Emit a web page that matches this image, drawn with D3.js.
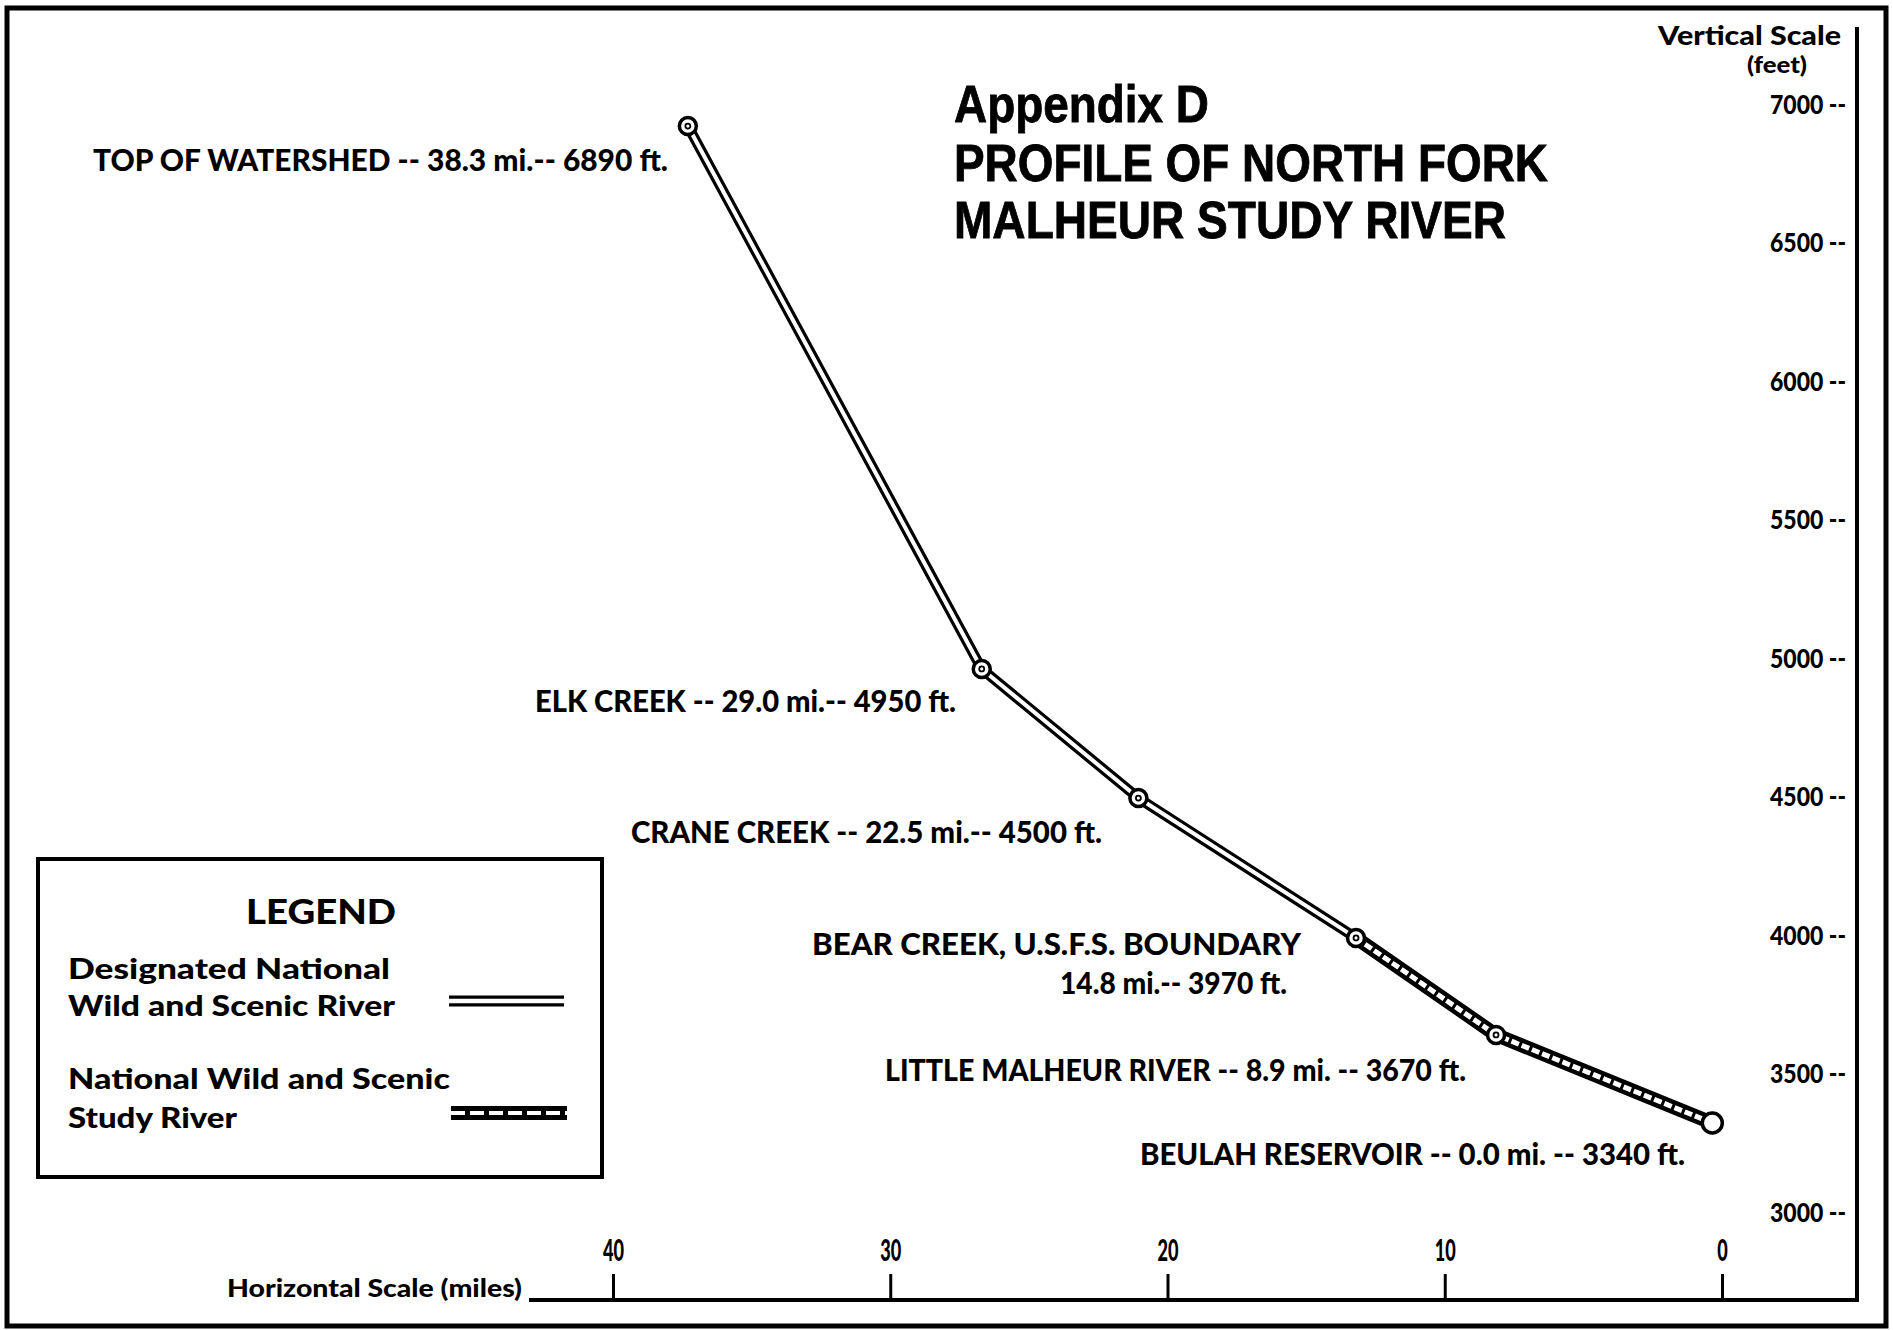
<!DOCTYPE html>
<html>
<head>
<meta charset="utf-8">
<script src="https://cdn.jsdelivr.net/npm/d3@7"></script>
<style>
  html, body { margin: 0; padding: 0; background: #fff; }
  svg { display: block; }
</style>
</head>
<body>
<svg id="chart" width="1893" height="1330"></svg>
<script>
// ---------------- data ----------------
const sites = ["TOP OF WATERSHED", "ELK CREEK", "CRANE CREEK", "BEAR CREEK, U.S.F.S. BOUNDARY", "LITTLE MALHEUR RIVER", "BEULAH RESERVOIR"];
// river mile and elevation as plotted on the drawing's scales
const plotMiles = [37.3, 26.7, 21.05, 13.2, 8.15, 0.35];
const plotFeet  = [6924, 4964, 4498, 3993, 3643, 3325];
// labels printed next to each point
const labelLines = [
  ["TOP OF WATERSHED  -- 38.3 mi.-- 6890 ft."],
  ["ELK CREEK -- 29.0 mi.-- 4950 ft."],
  ["CRANE CREEK -- 22.5 mi.-- 4500 ft."],
  ["BEAR CREEK, U.S.F.S. BOUNDARY", "14.8 mi.-- 3970 ft."],
  ["LITTLE MALHEUR RIVER -- 8.9 mi. -- 3670 ft."],
  ["BEULAH RESERVOIR -- 0.0 mi. -- 3340 ft."]
];
// segment classes: index ranges of points
const designatedIdx = [0, 1, 2, 3];
const studyIdx = [3, 4, 5];
const xTicks = [40, 30, 20, 10, 0];
const yTicks = [7000, 6500, 6000, 5500, 5000, 4500, 4000, 3500, 3000];
const titleLines = ["Appendix D", "PROFILE OF NORTH FORK", "MALHEUR STUDY RIVER"];
const legendTitle = "LEGEND";
const legendItems = [["Designated  National", "Wild and Scenic River"], ["National Wild and Scenic", "Study River"]];

// ---------------- layout ----------------
const svg = d3.select("#chart");
const LAB = "Lato, 'Open Sans', sans-serif";
const TIT = "'Liberation Sans', Arial, sans-serif";

const x = d3.scaleLinear().domain([0, 40]).range([1722, 613]);
const y = d3.scaleLinear().domain([3000, 7000]).range([1213, 105]);

// outer frame
svg.append("rect").attr("x", 7).attr("y", 8).attr("width", 1879).attr("height", 1318)
  .attr("fill", "none").attr("stroke", "#000").attr("stroke-width", 5);

// inner right line and bottom line
svg.append("line").attr("x1", 1857).attr("x2", 1857).attr("y1", 27).attr("y2", 1301)
  .attr("stroke", "#000").attr("stroke-width", 4);
svg.append("line").attr("x1", 529).attr("x2", 1859).attr("y1", 1300).attr("y2", 1300)
  .attr("stroke", "#000").attr("stroke-width", 4);

// x axis (ticks upward)
const gx = svg.append("g").attr("transform", "translate(0,1300)")
  .call(d3.axisTop(x).tickValues(xTicks).tickSize(26).tickPadding(13).tickFormat(d3.format("d")));
gx.select(".domain").remove();
gx.selectAll(".tick line").attr("stroke", "#000").attr("stroke-width", 3);
gx.selectAll(".tick text").attr("fill", "#000").style("font-family", LAB).style("font-weight", 900)
  .style("font-size", "30px")
  .attr("textLength", d => String(d).length * 10.5).attr("lengthAdjust", "spacingAndGlyphs");

svg.append("text").attr("x", 227).attr("y", 1297).text("Horizontal Scale (miles)")
  .style("font-family", LAB).style("font-weight", 900).style("font-size", "24px")
  .attr("textLength", 295).attr("lengthAdjust", "spacingAndGlyphs");

// y axis (labels "7000 --")
const gy = svg.append("g").attr("transform", "translate(1846,0)")
  .call(d3.axisLeft(y).tickValues(yTicks).tickSize(0).tickPadding(0).tickFormat(d => d + " --"));
gy.select(".domain").remove();
gy.selectAll(".tick text").attr("fill", "#000").style("font-family", LAB).style("font-weight", 900)
  .style("font-size", "26px")
  .attr("textLength", 76).attr("lengthAdjust", "spacingAndGlyphs");

svg.append("text").attr("x", 1658).attr("y", 45).text("Vertical Scale")
  .style("font-family", LAB).style("font-weight", 900).style("font-size", "26px")
  .attr("textLength", 183).attr("lengthAdjust", "spacingAndGlyphs");
svg.append("text").attr("x", 1747).attr("y", 73).text("(feet)")
  .style("font-family", LAB).style("font-weight", 900).style("font-size", "22px")
  .attr("textLength", 60).attr("lengthAdjust", "spacingAndGlyphs");

// title
const titleSpec = [{b: 122, len: 255}, {b: 181, len: 594}, {b: 238, len: 552}];
titleLines.forEach((t, i) => {
  svg.append("text").attr("x", 954).attr("y", titleSpec[i].b).text(t)
    .style("font-family", TIT).style("font-weight", 700).style("font-size", "52px")
    .attr("stroke", "#000").attr("stroke-width", 0.8)
    .attr("textLength", titleSpec[i].len).attr("lengthAdjust", "spacingAndGlyphs");
});

// ---------------- river profile ----------------
const pts = plotMiles.map((m, i) => [x(m), y(plotFeet[i])]);
const line = d3.line();
const desPts = designatedIdx.map(i => pts[i]);
const stuPts = studyIdx.map(i => pts[i]);

svg.append("path").attr("d", line(stuPts)).attr("fill", "none")
  .attr("stroke", "#000").attr("stroke-width", 14).attr("stroke-linejoin", "round");
svg.append("path").attr("d", line(stuPts)).attr("fill", "none")
  .attr("stroke", "#fff").attr("stroke-width", 5).attr("stroke-dasharray", "8,3");
svg.append("path").attr("d", line(desPts)).attr("fill", "none")
  .attr("stroke", "#000").attr("stroke-width", 10.5).attr("stroke-linejoin", "round");
svg.append("path").attr("d", line(desPts)).attr("fill", "none")
  .attr("stroke", "#fff").attr("stroke-width", 4).attr("stroke-linejoin", "round");

// markers
pts.forEach((p, i) => {
  const last = i === pts.length - 1;
  svg.append("circle").attr("cx", p[0]).attr("cy", p[1]).attr("r", last ? 10 : 8.5)
    .attr("fill", "#fff").attr("stroke", "#000").attr("stroke-width", 3.5);
  if (!last) {
    svg.append("circle").attr("cx", p[0]).attr("cy", p[1]).attr("r", 2.5)
      .attr("fill", "#fff").attr("stroke", "#000").attr("stroke-width", 1.8);
  }
});

// point labels
const labelSpec = [
  [{x: 93, b: 171, len: 575}],
  [{x: 535, b: 712, len: 421}],
  [{x: 631, b: 843, len: 471}],
  [{x: 812, b: 955, len: 489}, {x: 1060, b: 994, len: 227}],
  [{x: 885, b: 1081, len: 581}],
  [{x: 1140, b: 1165, len: 545}]
];
labelLines.forEach((lines, i) => {
  lines.forEach((t, j) => {
    const s = labelSpec[i][j];
    svg.append("text").attr("x", s.x).attr("y", s.b).text(t)
      .style("font-family", LAB).style("font-weight", 900).style("font-size", "31px")
      .attr("textLength", s.len).attr("lengthAdjust", "spacingAndGlyphs");
  });
});

// ---------------- legend ----------------
svg.append("rect").attr("x", 38).attr("y", 859).attr("width", 564).attr("height", 318)
  .attr("fill", "none").attr("stroke", "#000").attr("stroke-width", 4);
svg.append("text").attr("x", 321).attr("y", 924).attr("text-anchor", "middle").text(legendTitle)
  .style("font-family", LAB).style("font-weight", 900).style("font-size", "34px")
  .attr("textLength", 150).attr("lengthAdjust", "spacingAndGlyphs");
const legSpec = [[{b: 979, len: 322}, {b: 1016, len: 327}], [{b: 1089, len: 382}, {b: 1128, len: 169}]];
legendItems.forEach((lines, i) => {
  lines.forEach((t, j) => {
    svg.append("text").attr("x", 68).attr("y", legSpec[i][j].b).text(t)
      .style("font-family", LAB).style("font-weight", 900).style("font-size", "28px")
      .attr("textLength", legSpec[i][j].len).attr("lengthAdjust", "spacingAndGlyphs");
  });
});
// legend symbols
svg.append("line").attr("x1", 449).attr("x2", 564).attr("y1", 1001).attr("y2", 1001)
  .attr("stroke", "#000").attr("stroke-width", 11);
svg.append("line").attr("x1", 449).attr("x2", 564).attr("y1", 1001).attr("y2", 1001)
  .attr("stroke", "#fff").attr("stroke-width", 4.5);
svg.append("line").attr("x1", 451).attr("x2", 567).attr("y1", 1113).attr("y2", 1113)
  .attr("stroke", "#000").attr("stroke-width", 14);
svg.append("line").attr("x1", 451).attr("x2", 567).attr("y1", 1113).attr("y2", 1113)
  .attr("stroke", "#fff").attr("stroke-width", 4).attr("stroke-dasharray", "14,5");
</script>
</body>
</html>
